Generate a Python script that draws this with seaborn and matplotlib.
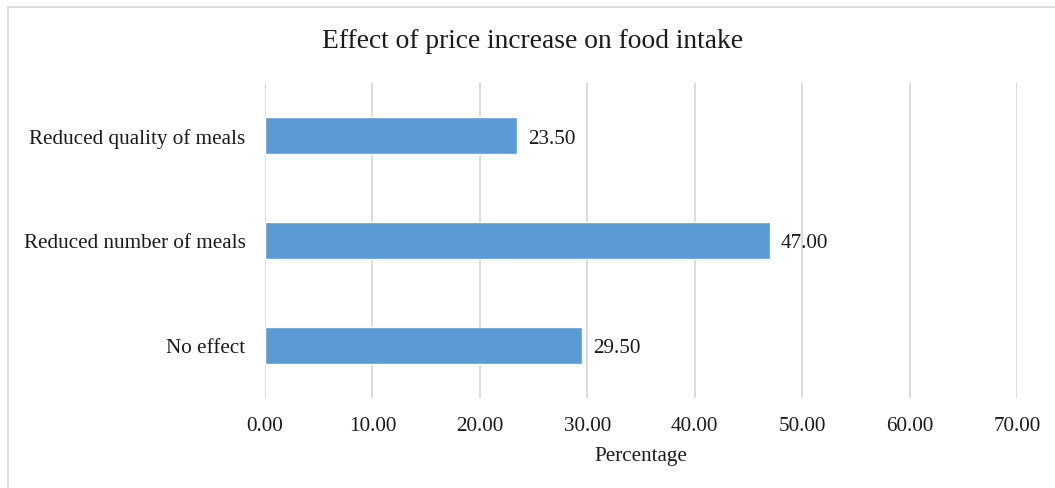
import matplotlib
matplotlib.use("Agg")
import matplotlib.pyplot as plt
from matplotlib.lines import Line2D
import seaborn as sns
import pandas as pd

categories = ["Reduced quality of meals", "Reduced number of meals", "No effect"]
percentages = [23.50, 47.00, 29.50]
x_ticks = [0, 10, 20, 30, 40, 50, 60, 70]
x_tick_labels = [f"{t:.2f}" for t in x_ticks]

df = pd.DataFrame({"category": categories, "pct": percentages})

sns.set_theme(style="white")
plt.rcParams["font.family"] = ["Liberation Serif", "DejaVu Serif"]
text_color = "#1a1a1a"
fs = 15.2

fig = plt.figure(figsize=(10.55, 4.89), dpi=100)
W, H = 1055, 489
ax = fig.add_axes([265 / W, 1 - 399 / H, (1017 - 265) / W, (399 - 84) / H])

sns.barplot(data=df, y="category", x="pct", orient="h", color="#5B9BD5",
            width=0.35, saturation=1, ax=ax, zorder=3)

ax.set_xlim(0, 70)
ax.set_ylim(2.5, -0.5)
ax.set_xticks(x_ticks)
ax.set_xticklabels(x_tick_labels, fontsize=fs, color=text_color)
ax.tick_params(axis="y", labelsize=fs, labelcolor=text_color, length=0, pad=14)
ax.tick_params(axis="x", length=0, pad=13)
ax.xaxis.grid(True, color="#D9D9D9", linewidth=1.3, zorder=0)
ax.yaxis.grid(False)
for s in ax.spines.values():
    s.set_visible(False)

ax.set_ylabel("")
ax.set_xlabel("Percentage", fontsize=fs, color=text_color, labelpad=8)

for i, v in enumerate(percentages):
    ax.text(v + 1.0, i, f"{v:.2f}", va="center_baseline", ha="left",
            fontsize=fs, color=text_color)

fig.text(0.5 * (W + 10) / W, 1 - 42 / H, "Effect of price increase on food intake",
         ha="center", va="center", fontsize=19.8, color=text_color)

# frame around the chart (top and left edges)
fig.add_artist(Line2D([8 / W, 8 / W], [0, 1 - 8 / H], color="#D9D9D9", linewidth=1.2,
                      transform=fig.transFigure))
fig.add_artist(Line2D([8 / W, 1], [1 - 8 / H, 1 - 8 / H], color="#D9D9D9", linewidth=1.2,
                      transform=fig.transFigure))

fig.savefig("out.png", dpi=100, facecolor="white")
